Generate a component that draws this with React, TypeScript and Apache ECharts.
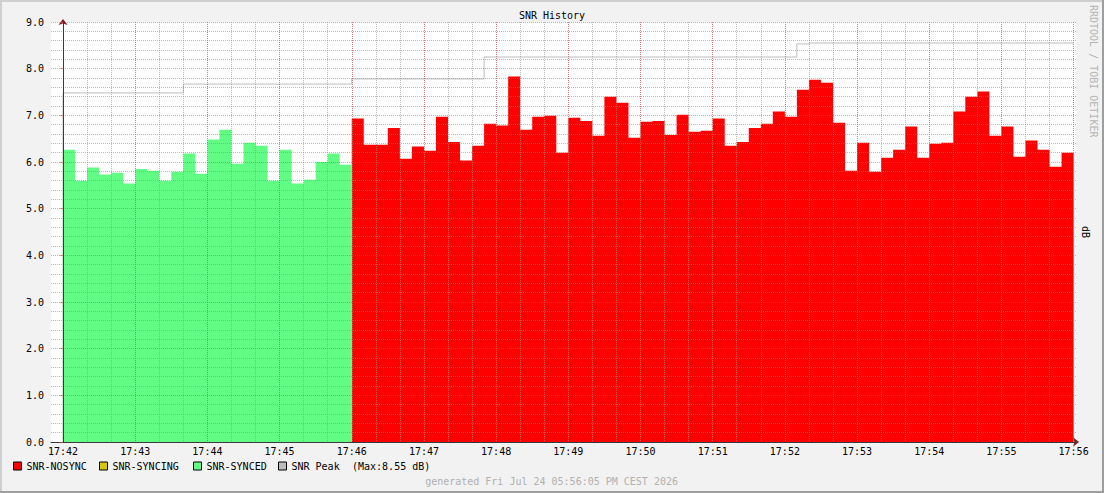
import React, { useEffect, useRef } from "react";
import * as echarts from "echarts";

// ---- data (seconds from 17:42:00, one sample every 10 s) ----
const STEP = 10;
const xTickLabels = [
  "17:42", "17:43", "17:44", "17:45", "17:46", "17:47", "17:48", "17:49",
  "17:50", "17:51", "17:52", "17:53", "17:54", "17:55", "17:56",
];
const yTickDecimals = 1;

const syncedValues = [
  6.26, 5.60, 5.88, 5.73, 5.77, 5.54, 5.85, 5.81, 5.60, 5.79, 6.18, 5.75,
  6.48, 6.69, 5.96, 6.41, 6.35, 5.60, 6.26, 5.54, 5.62, 6.00, 6.18, 5.94,
];
const syncingValues: number[] = [];
const nosyncValues = [
  6.93, 6.37, 6.37, 6.73, 6.07, 6.33, 6.24, 6.97, 6.43, 6.03,
  6.35, 6.82, 6.78, 7.83, 6.69, 6.97, 6.99, 6.20, 6.95, 6.88,
  6.56, 7.40, 7.27, 6.52, 6.86, 6.88, 6.58, 7.01, 6.65, 6.67,
  6.93, 6.35, 6.43, 6.73, 6.82, 7.08, 6.97, 7.55, 7.76, 7.70,
  6.84, 5.81, 6.41, 5.79, 6.09, 6.26, 6.76, 6.09, 6.39, 6.41,
  7.08, 7.40, 7.51, 6.56, 6.76, 6.11, 6.46, 6.26, 5.90, 6.20,
];
const peakValues = [
  7.48, 7.48, 7.48, 7.48, 7.48, 7.48, 7.48, 7.48, 7.48, 7.48,
  7.67, 7.67, 7.67, 7.67, 7.67, 7.67, 7.67, 7.67, 7.67, 7.67, 7.67, 7.67, 7.67, 7.67,
  7.78, 7.78, 7.78, 7.78, 7.78, 7.78, 7.78, 7.78, 7.78, 7.78, 7.78,
  8.25, 8.25, 8.25, 8.25, 8.25, 8.25, 8.25, 8.25, 8.25, 8.25, 8.25, 8.25, 8.25,
  8.25, 8.25, 8.25, 8.25, 8.25, 8.25, 8.25, 8.25, 8.25, 8.25, 8.25, 8.25, 8.25,
  8.53,
  8.55, 8.55, 8.55, 8.55, 8.55, 8.55, 8.55, 8.55, 8.55, 8.55, 8.55,
  8.55, 8.55, 8.55, 8.55, 8.55, 8.55, 8.55, 8.55, 8.55, 8.55, 8.55,
];

const COLORS = {
  nosync: "#ff0000",
  syncing: "#d8c800",
  synced: "#60fc84",
  peak: "#bcbcbc",
};

const FONT = "DejaVu Sans Mono";

// step-area points: one point at each sample start, plus the end of the last sample
function stepPoints(values: number[], firstIndex: number): number[][] {
  const pts = values.map((v, i) => [(firstIndex + i) * STEP, v]);
  if (values.length) {
    pts.push([(firstIndex + values.length) * STEP, values[values.length - 1]]);
  }
  return pts;
}

export default function App() {
  const ref = useRef<HTMLDivElement>(null);

  useEffect(() => {
    if (!ref.current) return;
    const chart = echarts.init(ref.current, undefined, { renderer: "svg" });

    const totalSamples = syncedValues.length + nosyncValues.length;
    const xEnd = totalSamples * STEP;
    const xMin = -STEP;
    const xMax = xEnd + 2;
    const plotLeft = 51;
    const plotRight = 28;
    const plotWidth = 1104 - plotLeft - plotRight;
    const pxPerSec = plotWidth / (xMax - xMin);

    const syncedData = stepPoints(syncedValues, 0);
    const nosyncData = stepPoints(nosyncValues, syncedValues.length);
    const syncingData = stepPoints(syncingValues, 0);
    const peakData: number[][] = [[0, 0], ...stepPoints(peakValues, 0)];
    const peakMax = Math.max(...peakValues).toFixed(2);

    const minorGrid = { color: "rgba(143,143,143,0.6)", width: 1, type: [1, 1] };
    const majorGrid = { color: "rgba(222,79,79,0.55)", width: 1, type: [1, 1] };
    const arrowColor = "#801f1f";
    const axisColor = "#3a3a3a";
    const textBase = { fontFamily: FONT, fontSize: 10, color: "#000" };

    const legendItem = (name: string, left: number, color: string) => ({
      show: true,
      left,
      top: 461,
      padding: 0,
      itemWidth: 8,
      itemHeight: 8,
      selectedMode: false,
      textStyle: textBase,
      data: [
        {
          name,
          icon: "rect",
          itemStyle: { color, borderColor: "#000", borderWidth: 1 },
        },
      ],
    });

    const areaSeries = (name: string, color: string, data: number[][]) => ({
      name,
      type: "line",
      xAxisIndex: 0,
      yAxisIndex: 0,
      step: "end",
      symbol: "none",
      z: 2,
      itemStyle: { color },
      lineStyle: { color, width: 0 },
      areaStyle: { color, opacity: 1 },
      data,
    });

    const option: any = {
      animation: false,
      backgroundColor: "#f2f2f2",
      title: {
        text: "SNR History",
        left: "center",
        top: 10,
        padding: 0,
        textStyle: { ...textBase, fontWeight: "normal" },
      },
      legend: [
        legendItem("SNR-NOSYNC", 13, COLORS.nosync),
        legendItem("SNR-SYNCING", 99, COLORS.syncing),
        legendItem("SNR-SYNCED", 193, COLORS.synced),
        legendItem("SNR Peak", 278, COLORS.peak),
      ],
      grid: [
        {
          left: plotLeft,
          right: plotRight,
          top: 22,
          bottom: 51,
          show: true,
          backgroundColor: "#ffffff",
          borderWidth: 0,
        },
        {
          left: plotLeft + STEP * pxPerSec,
          right: plotRight + (xMax - xEnd) * pxPerSec,
          top: 22,
          bottom: 51,
          show: false,
        },
      ],
      xAxis: [
        {
          type: "value",
          gridIndex: 0,
          min: xMin,
          max: xMax,
          z: 5,
          axisLine: { show: true, onZero: false, lineStyle: { color: axisColor, width: 1 } },
          axisTick: { show: false },
          axisLabel: { show: false },
          splitLine: { show: false },
        },
        {
          // major vertical grid (every minute) with labels
          type: "value",
          gridIndex: 1,
          min: 0,
          max: xEnd,
          interval: 60,
          z: 4,
          axisLine: {
            show: true,
            onZero: false,
            symbol: ["none", "arrow"],
            symbolSize: [7, 6],
            symbolOffset: [0, 5.4],
            lineStyle: { color: arrowColor, width: 1 },
          },
          axisTick: { show: false },
          axisLabel: {
            ...textBase,
            margin: 4,
            formatter: (v: number) =>
              v % 60 === 0 ? xTickLabels[Math.round(v / 60)] ?? "" : "",
          },
          splitLine: { show: true, lineStyle: majorGrid },
        },
        {
          // minor vertical grid (every 20 s)
          type: "value",
          gridIndex: 1,
          min: 0,
          max: xEnd,
          interval: 20,
          z: 3.5,
          axisLine: { show: false, onZero: false },
          axisTick: { show: false },
          axisLabel: { show: false },
          splitLine: { show: true, lineStyle: minorGrid },
        },
      ],
      yAxis: [
        {
          type: "value",
          gridIndex: 0,
          min: 0,
          max: 9,
          interval: 1,
          z: 5,
          axisLine: { show: true, lineStyle: { color: axisColor, width: 1 } },
          axisTick: {
            show: true,
            length: 3,
            lineStyle: { color: "rgba(222,79,79,0.6)", width: 1 },
          },
          axisLabel: {
            ...textBase,
            margin: 7,
            formatter: (v: number) => v.toFixed(yTickDecimals),
          },
          splitLine: { show: true, lineStyle: majorGrid },
          minorTick: { show: false, splitNumber: 5 },
          minorSplitLine: { show: true, lineStyle: minorGrid },
        },
        {
          type: "value",
          gridIndex: 1,
          min: 0,
          max: 9,
          offset: STEP * pxPerSec,
          z: 4,
          axisLine: {
            show: true,
            symbol: ["none", "arrow"],
            symbolSize: [7, 6],
            symbolOffset: [0, 3],
            lineStyle: { color: arrowColor, width: 1 },
          },
          axisTick: { show: false },
          axisLabel: { show: false },
          splitLine: { show: false },
        },
      ],
      series: [
        areaSeries("SNR-NOSYNC", COLORS.nosync, nosyncData),
        areaSeries("SNR-SYNCING", COLORS.syncing, syncingData),
        areaSeries("SNR-SYNCED", COLORS.synced, syncedData),
        {
          name: "SNR Peak",
          type: "line",
          xAxisIndex: 0,
          yAxisIndex: 0,
          step: "end",
          symbol: "none",
          z: 3,
          itemStyle: { color: COLORS.peak },
          lineStyle: { color: COLORS.peak, width: 1 },
          data: peakData,
        },
      ],
      graphic: [
        { type: "rect", shape: { x: 0, y: 0, width: 1104, height: 2 }, style: { fill: "#cfcfcf" }, silent: true },
        { type: "rect", shape: { x: 0, y: 0, width: 2, height: 493 }, style: { fill: "#cfcfcf" }, silent: true },
        { type: "rect", shape: { x: 0, y: 491, width: 1104, height: 2 }, style: { fill: "#9e9e9e" }, silent: true },
        { type: "rect", shape: { x: 1102, y: 0, width: 2, height: 493 }, style: { fill: "#9e9e9e" }, silent: true },
        {
          type: "text",
          x: 352,
          y: 466,
          style: {
            text: `(Max:${peakMax} dB)`,
            fontFamily: FONT,
            fontSize: 10,
            fill: "#000",
            textVerticalAlign: "middle",
            textAlign: "left",
          },
        },
        {
          type: "text",
          x: 678,
          y: 481,
          style: {
            text: "generated Fri Jul 24 05:56:05 PM CEST 2026",
            fontFamily: FONT,
            fontSize: 10,
            fill: "#b0b0b0",
            textVerticalAlign: "middle",
            textAlign: "right",
          },
        },
        {
          type: "text",
          x: 1093,
          y: 5,
          rotation: -Math.PI / 2,
          style: {
            text: "RRDTOOL / TOBI OETIKER",
            fontFamily: FONT,
            fontSize: 10,
            fill: "#b4b4b4",
            textVerticalAlign: "middle",
            textAlign: "left",
          },
        },
        {
          type: "text",
          x: 1085,
          y: 232,
          rotation: -Math.PI / 2,
          style: {
            text: "dB",
            fontFamily: FONT,
            fontSize: 10,
            fill: "#000",
            textVerticalAlign: "middle",
            textAlign: "center",
          },
        },
      ],
    };

    chart.setOption(option);
    return () => chart.dispose();
  }, []);

  return (
    <div
      ref={ref}
      style={{ position: "absolute", left: 0, top: 0, width: 1104, height: 493 }}
    />
  );
}
